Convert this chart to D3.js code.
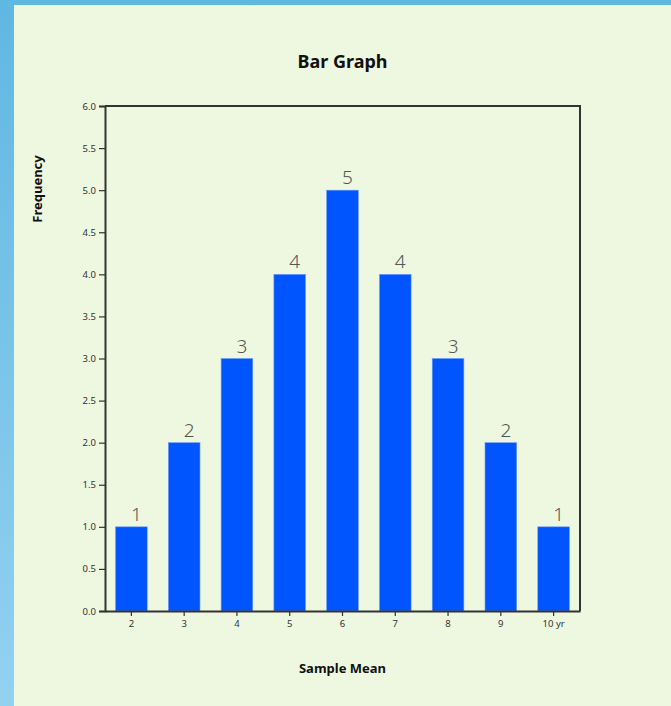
<!DOCTYPE html>
<html>
<head>
<meta charset="utf-8">
<script src="https://cdn.jsdelivr.net/npm/d3@7"></script>
<style>
  html, body { margin: 0; padding: 0; }
  body { width: 671px; height: 706px; overflow: hidden; background: linear-gradient(#5fb8e2, #93d1f1); }
  .panel { position: absolute; left: 14px; top: 5px; width: 657px; height: 701px; background: #eef7e0; }
  svg { position: absolute; left: 0; top: 0; }
  text { font-family: 'Noto Sans', sans-serif; }
</style>
</head>
<body>
<div class="panel"></div>
<script>
/* global d3 */

const width = 671;
const height = 706;

const categories = ['2', '3', '4', '5', '6', '7', '8', '9', '10 yr'];
const frequencies = [1, 2, 3, 4, 5, 4, 3, 2, 1];
const yTicks = [0, 0.5, 1, 1.5, 2, 2.5, 3, 3.5, 4, 4.5, 5, 5.5, 6];

const margin = { top: 106, right: 91, bottom: 95, left: 105 };

const svg = d3.select('body').append('svg')
  .attr('width', width)
  .attr('height', height);

const x = d3.scaleBand()
  .domain(categories)
  .range([margin.left, width - margin.right])
  .paddingInner(0.4)
  .paddingOuter(0.2);

const y = d3.scaleLinear()
  .domain([0, 6])
  .range([height - margin.bottom, margin.top]);

// bars
svg.append('g')
  .selectAll('rect')
  .data(frequencies)
  .enter().append('rect')
    .attr('x', (d, i) => x(categories[i]))
    .attr('y', d => y(d))
    .attr('width', x.bandwidth())
    .attr('height', d => y(0) - y(d))
    .style('fill', '#0055ff')
    .style('stroke', '#6f9cf5')
    .style('stroke-width', 0.6);

// value labels
svg.append('g')
  .selectAll('text')
  .data(frequencies)
  .enter().append('text')
    .attr('x', (d, i) => x(categories[i]) + x.bandwidth() / 2 + 5)
    .attr('y', d => y(d) - 6)
    .attr('text-anchor', 'middle')
    .style('font-size', '19px')
    .style('font-weight', 300)
    .style('fill', '#555')
    .text(d => d);

// frame top / right
svg.append('path')
  .attr('d', `M${margin.left},${margin.top}H${width - margin.right}V${height - margin.bottom}`)
  .style('fill', 'none')
  .style('stroke', '#333')
  .style('stroke-width', 2);

const yAxis = svg.append('g')
  .attr('transform', `translate(${margin.left},0)`)
  .call(d3.axisLeft(y).tickValues(yTicks).tickFormat(d3.format('.1f')).tickSize(6).tickPadding(3));

const xAxis = svg.append('g')
  .attr('transform', `translate(0,${height - margin.bottom})`)
  .call(d3.axisBottom(x).tickSize(5).tickPadding(4).tickSizeOuter(0));

[xAxis, yAxis].forEach(g => {
  g.select('.domain').style('stroke', '#333').style('stroke-width', 2);
  g.selectAll('.tick line').style('stroke', '#333').style('stroke-width', 1.2);
  g.selectAll('.tick text')
    .style('font-family', "'Noto Sans', sans-serif")
    .style('font-size', '9.5px')
    .style('fill', '#333');
});

// title & axis labels
svg.append('text')
  .attr('x', (margin.left + width - margin.right) / 2)
  .attr('y', 68)
  .attr('text-anchor', 'middle')
  .style('font-size', '18px')
  .style('font-weight', 'bold')
  .style('fill', '#111')
  .text('Bar Graph');

svg.append('text')
  .attr('x', (margin.left + width - margin.right) / 2)
  .attr('y', 673)
  .attr('text-anchor', 'middle')
  .style('font-size', '13px')
  .style('font-weight', 'bold')
  .style('fill', '#111')
  .text('Sample Mean');

svg.append('text')
  .attr('transform', 'translate(42,189) rotate(-90)')
  .attr('text-anchor', 'middle')
  .style('font-size', '13px')
  .style('font-weight', 'bold')
  .style('fill', '#111')
  .text('Frequency');
</script>
</body>
</html>
